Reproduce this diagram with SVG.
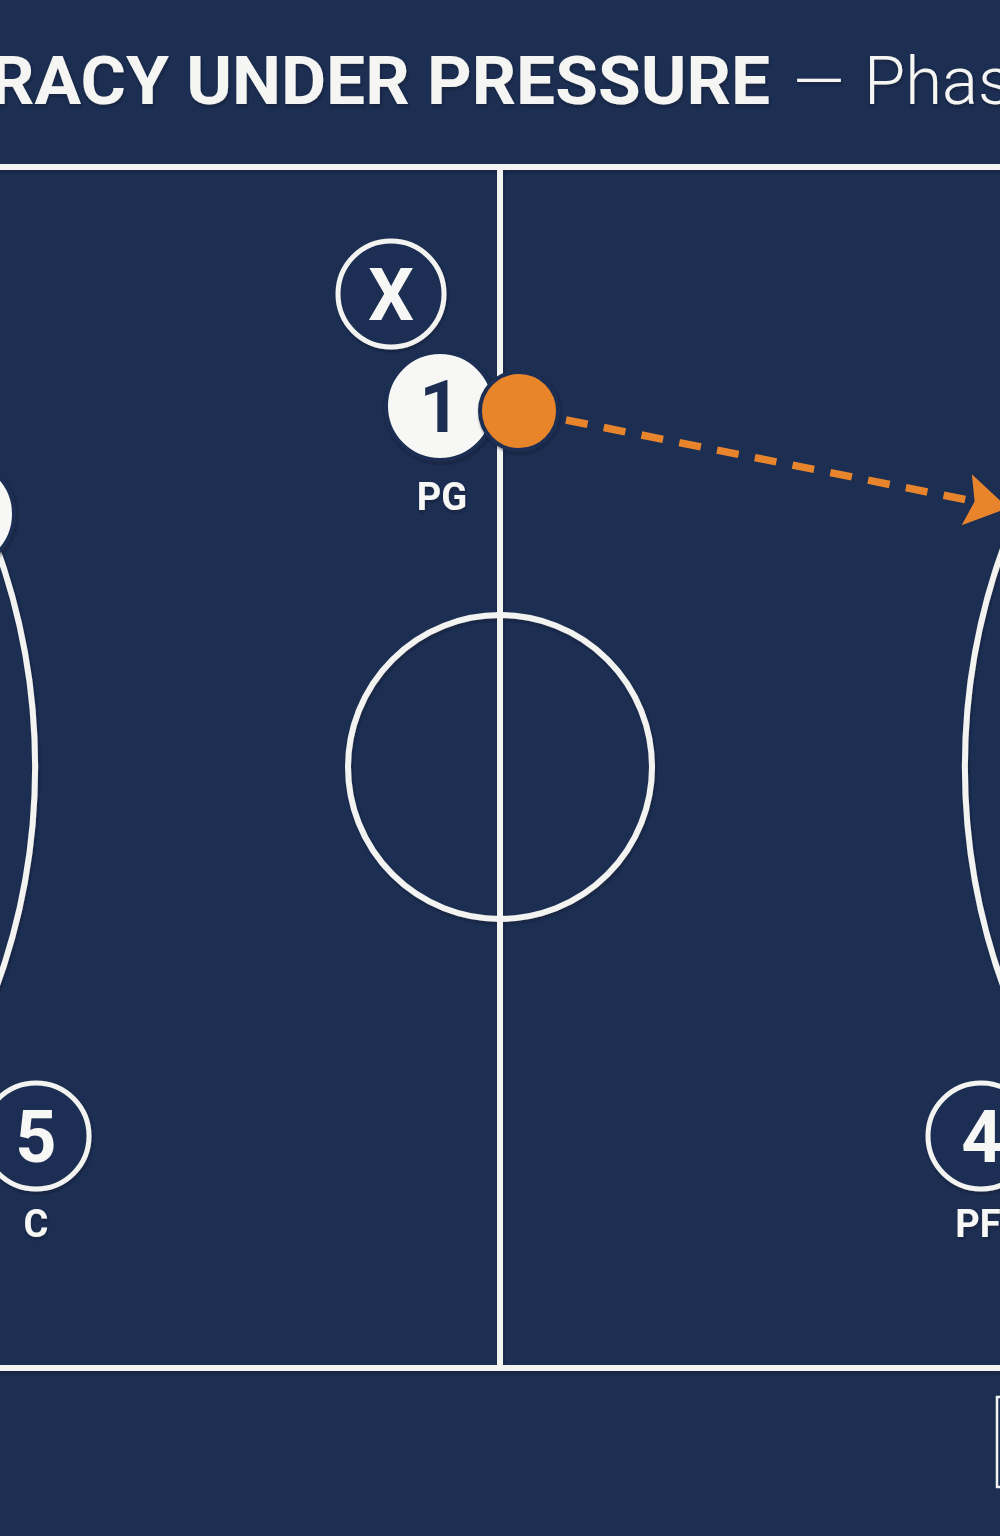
<svg xmlns="http://www.w3.org/2000/svg" width="1000" height="1536" viewBox="0 0 1000 1536">
  <defs>
    <style>
      .line { fill: none; stroke: #f3f3f1; stroke-width: 6; }
      .ring { fill: #1c2f52; stroke: #f3f3f1; stroke-width: 5; }
      .solid { fill: #f7f7f5; stroke: #1c2f52; stroke-width: 4; }
      .num { font-family: Roboto, "Liberation Sans", sans-serif; font-weight: 700; font-size: 72px; text-anchor: middle; fill: #f7f7f5; }
      .lbl { font-family: Roboto, "Liberation Sans", sans-serif; font-weight: 700; font-size: 38px; text-anchor: middle; fill: #f7f7f5; }
      .title { font-family: Roboto, "Liberation Sans", sans-serif; font-size: 67px; fill: #f5f5f3; }
      .pass { fill: none; stroke: #e8852c; stroke-width: 7.5; stroke-dasharray: 22 16.5; }
    </style>
    <filter id="sh" x="-20%" y="-20%" width="140%" height="140%">
      <feDropShadow dx="1" dy="2" stdDeviation="1.5" flood-color="#0a1428" flood-opacity="0.5"/>
    </filter>
    <marker id="arrow" markerUnits="userSpaceOnUse" markerWidth="80" markerHeight="80" refX="0" refY="30" orient="auto" overflow="visible">
      <path d="M38,30 L-4,4 L4,30 L-4,56 Z" fill="#e8852c"/>
    </marker>
  </defs>

  <rect x="0" y="0" width="1000" height="1536" fill="#1c2f52"/>

  <g id="title" filter="url(#sh)">
    <text class="title" x="-10" y="104" font-weight="700" textLength="780" lengthAdjust="spacingAndGlyphs">RACY UNDER PRESSURE</text>
    <text class="title" y="104" font-weight="300"><tspan x="793">—</tspan><tspan x="864">Phas</tspan></text>
  </g>

  <g id="court" filter="url(#sh)">
    <line class="line" x1="0" y1="167" x2="1000" y2="167"/>
    <line class="line" x1="0" y1="1368" x2="1000" y2="1368"/>
    <line class="line" x1="500" y1="167" x2="500" y2="1368"/>
    <circle class="line" cx="500" cy="767" r="152"/>
    <path class="line" d="M -6 540 A 647 647 0 0 1 -6 994"/>
    <path class="line" d="M 1006 540 A 647 647 0 0 0 1006 994"/>
  </g>

  <g id="legend">
    <rect x="997" y="1397" width="60" height="90" fill="none" stroke="#f3f3f1" stroke-width="2.5"/>
  </g>

  <g id="connectors">
    <line class="pass" x1="566" y1="420" x2="970.7" y2="500.6" marker-end="url(#arrow)"/>
  </g>

  <g id="player-left" filter="url(#sh)">
    <circle class="solid" cx="-40" cy="514" r="54"/>
  </g>

  <g id="defender-x" filter="url(#sh)">
    <circle class="ring" cx="391" cy="294" r="53"/>
    <text class="num" x="391" y="320">X</text>
  </g>

  <g id="player-1" filter="url(#sh)">
    <circle class="solid" cx="440" cy="406" r="54"/>
    <text class="num" x="440" y="432" style="fill:#1c2f52">1</text>
    <text class="lbl" x="442" y="510">PG</text>
  </g>

  <g id="ball" filter="url(#sh)">
    <circle cx="519" cy="411" r="39" fill="#e8852c" stroke="#1c2f52" stroke-width="4"/>
  </g>

  <g id="player-5" filter="url(#sh)">
    <circle class="ring" cx="36" cy="1136" r="53"/>
    <text class="num" x="36" y="1162">5</text>
    <text class="lbl" x="36" y="1237">C</text>
  </g>

  <g id="player-4" filter="url(#sh)">
    <circle class="ring" cx="981" cy="1136" r="53"/>
    <text class="num" x="982" y="1162">4</text>
    <text class="lbl" x="978" y="1237">PF</text>
  </g>
</svg>
